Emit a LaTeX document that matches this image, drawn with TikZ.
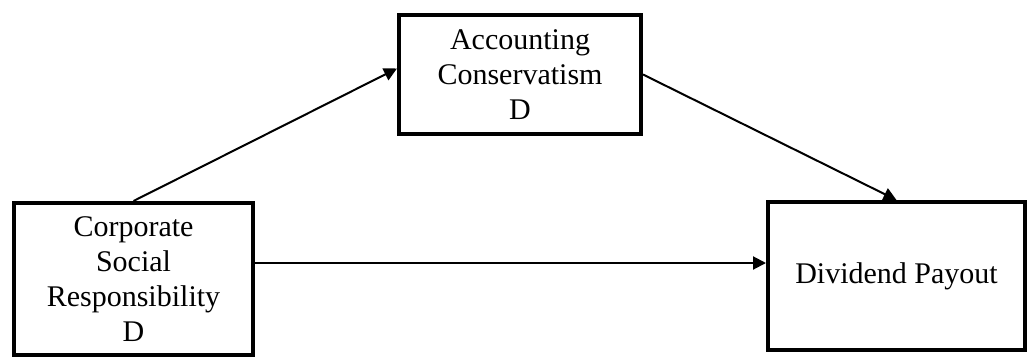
\documentclass[tikz,border=0pt]{standalone}
\usepackage{fontspec}
\setmainfont{Liberation Serif}
\usepackage{tikz}
\usetikzlibrary{arrows.meta}

\begin{document}
\begin{tikzpicture}[x=0.5pt,y=-0.5pt]
\tikzstyle{every node}+=[inner sep=0pt,font=\fontsize{15}{17.5}\selectfont]
\tikzstyle{box}=[draw=black,line width=2pt,rectangle,align=center]
\tikzstyle{link}=[black,line width=1pt,-{Triangle[length=6.5pt,width=6.5pt]}]
\useasboundingbox (0,0) rectangle (1031,358);
\node [box,minimum width=119.5pt,minimum height=76pt] (csr) at (133.5,279) {Corporate\\Social\\Responsibility\\D};
\node [box,minimum width=121pt,minimum height=59.5pt] (ac) at (520,74.5) {Accounting\\Conservatism\\D};
\node [box,minimum width=128.5pt,minimum height=74pt] (dp) at (896.5,276) {Dividend Payout};
\draw [link] (csr.north) -- ([yshift=3pt]ac.west);
\draw [link] (ac.east) -- (dp.north);
\draw [link] ([yshift=8pt]csr.east) -- ([yshift=8pt]csr.east -| dp.west);
\end{tikzpicture}
\end{document}
